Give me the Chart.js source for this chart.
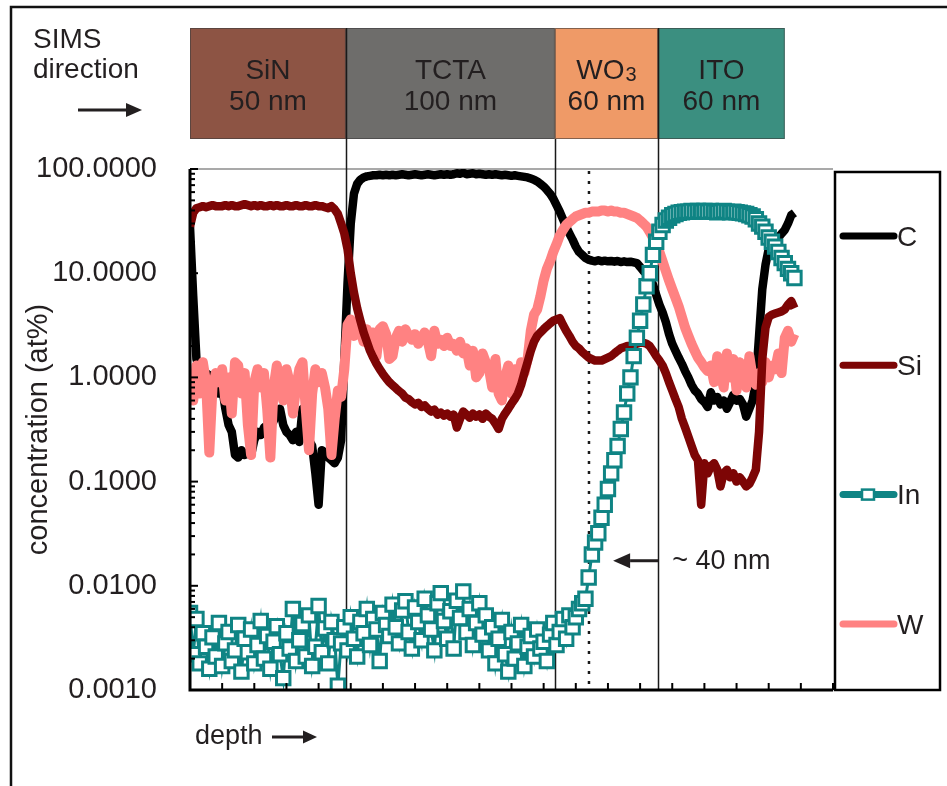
<!DOCTYPE html>
<html>
<head>
<meta charset="utf-8">
<title>SIMS depth profile</title>
<script src="https://cdn.jsdelivr.net/npm/chart.js@4.4.1/dist/chart.umd.min.js"></script>
<style>
  body { margin: 0; background: #fff; }
  #wrap { width: 947px; height: 786px; position: relative; }
</style>
</head>
<body>
<div id="wrap"><canvas id="chart"></canvas></div>
<script>
// depth runs in arbitrary units, 20 tick steps across the axis; one sample every 0.1
const STEP = 0.1;

// concentrations in at%
const carbon = [
  28, 6, 1.5, 1.2, 1.15, 1.1, 1.05, 1.0, 0.85, 0.7,
  0.8, 0.5, 0.35, 0.3, 0.18, 0.17, 0.2, 0.18, 0.19, 0.18,
  0.25, 0.3, 0.28, 0.33, 0.35, 0.4, 0.38, 0.45, 0.5, 0.35,
  0.3, 0.28, 0.25, 0.3, 0.24, 0.5, 0.45, 0.25, 0.22, 0.12,
  0.06, 0.2, 0.19, 0.17, 0.16, 0.15, 0.17, 0.25, 1.5, 8,
  30, 58, 72, 79, 83, 85, 86, 87, 87, 88,
  87, 88, 87, 88, 87, 88, 89, 88, 87, 88,
  89, 88, 87, 88, 89, 88, 87, 88, 89, 88,
  89, 88, 89, 91, 90, 92, 89, 90, 91, 89,
  90, 89, 88, 89, 88, 89, 88, 87, 88, 87,
  86, 87, 86, 85, 84, 83, 81, 79, 76, 72,
  68, 63, 58, 52, 45, 39, 33, 28, 24, 21,
  18, 16, 15, 14, 13.5, 13.2, 13.0, 13.3, 13.0, 13.2,
  13.0, 13.1, 12.9, 13.1, 12.8, 13.0, 12.8, 12.9, 12.7, 12.5,
  11.5, 10.5, 9.8, 9.0, 7.8, 6.2, 5.0, 4.2, 3.4, 2.6,
  2.1, 1.8, 1.55, 1.35, 1.15, 1.0, 0.85, 0.75, 0.7, 0.62,
  0.58, 0.52, 0.72, 0.6, 0.65, 0.55, 0.6, 0.5, 0.58, 0.68,
  0.6, 0.62, 0.55, 0.42, 0.5, 0.6, 0.9, 2.5, 7, 12,
  17, 19, 21, 22, 24, 26, 30, 36, 38
];

const silicon = [
  28, 38, 42, 43, 44, 43, 44, 45, 44, 44,
  44, 45, 44, 45, 44, 44, 45, 46, 45, 44,
  45, 44, 45, 44, 44, 45, 44, 45, 44, 44,
  45, 44, 44, 45, 44, 44, 45, 44, 44, 45,
  44, 44, 43, 42, 44, 41, 37, 30, 24, 17,
  10, 6.5, 4.6, 3.5, 2.7, 2.2, 1.8, 1.55, 1.35, 1.2,
  1.08, 0.98, 0.9, 0.84, 0.79, 0.74, 0.7, 0.64, 0.62, 0.58,
  0.55, 0.57, 0.52, 0.54, 0.5, 0.47, 0.49, 0.44, 0.46, 0.43,
  0.45, 0.42, 0.44, 0.33, 0.4, 0.47, 0.44, 0.41, 0.45, 0.42,
  0.44, 0.4, 0.45, 0.42, 0.4, 0.36, 0.32, 0.4, 0.45, 0.5,
  0.56, 0.62, 0.7, 0.85, 1.1, 1.4, 1.8, 2.2, 2.5, 2.7,
  2.9, 3.1, 3.3, 3.5, 3.6, 3.7, 3.2, 2.8, 2.5, 2.2,
  2.0, 1.9, 1.75, 1.65, 1.55, 1.5, 1.45, 1.45, 1.45, 1.5,
  1.55, 1.6, 1.7, 1.8, 1.9, 1.95, 2.0, 2.0, 2.05, 2.1,
  2.15, 2.15, 2.1, 2.0, 1.8, 1.6, 1.45, 1.3, 1.1, 0.9,
  0.75, 0.62, 0.52, 0.4, 0.33, 0.27, 0.22, 0.18, 0.16, 0.06,
  0.15, 0.12, 0.14, 0.15, 0.13, 0.09, 0.12, 0.13, 0.11, 0.12,
  0.1, 0.11, 0.1, 0.09, 0.095, 0.11, 0.13, 0.3, 1.5, 3.0,
  3.8, 4.0, 4.1, 4.2, 4.3, 4.5, 5.0, 5.4, 4.6
];

const indium = [
  0.0055, 0.0022, 0.0048, 0.0018, 0.0035, 0.0026, 0.0016, 0.0032, 0.0021, 0.0044,
  0.0017, 0.0028, 0.0036, 0.0019, 0.0024, 0.0042, 0.0015, 0.0031, 0.0023, 0.0038,
  0.0018, 0.0027, 0.0046, 0.0020, 0.0033, 0.0016, 0.0029, 0.0041, 0.0022, 0.0013,
  0.0035, 0.0025, 0.0060, 0.0019, 0.0030, 0.0043, 0.0021, 0.0052, 0.0017, 0.0026,
  0.0064, 0.0023, 0.0039, 0.0018, 0.0045, 0.0030, 0.0011, 0.0028, 0.0040, 0.0024,
  0.0050, 0.0031, 0.0021, 0.0045, 0.0035, 0.0060, 0.0027, 0.0048, 0.0038, 0.0019,
  0.0055, 0.0042, 0.0033, 0.0066, 0.0040, 0.0028, 0.0058, 0.0071, 0.0036, 0.0025,
  0.0062, 0.0045, 0.0030, 0.0075, 0.0052, 0.0038, 0.0024, 0.0068, 0.0085, 0.0046,
  0.0031, 0.0057, 0.0025, 0.0072, 0.0049, 0.0088, 0.0036, 0.0060, 0.0027, 0.0044,
  0.0068, 0.0034, 0.0052, 0.0024, 0.0040, 0.0018, 0.0031, 0.0047, 0.0022, 0.0015,
  0.0036, 0.0020, 0.0028, 0.0042, 0.0017, 0.0026, 0.0033, 0.0021, 0.0038, 0.0025,
  0.0029, 0.0019, 0.0034, 0.0044, 0.0027, 0.0036, 0.0048, 0.0031, 0.0052, 0.0040,
  0.0050, 0.0060, 0.0068, 0.0075, 0.012, 0.020, 0.026, 0.032, 0.045, 0.060,
  0.085, 0.12, 0.16, 0.22, 0.32, 0.46, 0.7, 1.0, 1.6, 2.4,
  3.5, 5.0, 7.5, 10, 15, 20, 25, 29, 32, 34,
  36, 37, 38, 38.5, 39, 39, 39.5, 39, 39.5, 39,
  39.5, 39, 39.5, 39, 38.5, 39, 39.5, 39, 38.5, 39,
  38.5, 38, 37.5, 37, 36, 35, 33, 30, 28, 25,
  22, 20, 18, 16, 14, 12.5, 11, 10, 9
];

const tungsten = [
  1.2, 0.6, 1.3, 0.7, 1.4, 0.9, 0.19, 0.8, 1.1, 0.9,
  1.2, 0.6, 1.0, 0.45, 1.4, 1.3, 0.7, 1.1, 0.35, 0.18,
  0.9, 1.2, 0.8, 1.1, 0.5, 0.17, 0.8, 1.3, 0.9, 0.6,
  1.2, 0.9, 0.45, 0.8, 1.2, 1.4, 0.5, 0.2, 0.7, 1.2,
  0.9, 1.1, 0.8, 0.5, 0.18, 0.4, 0.75, 0.65, 1.2, 3.2,
  3.6, 2.5, 3.4, 2.8, 2.2, 2.9, 2.4, 2.7, 1.6, 2.9,
  3.1, 2.6, 1.5, 1.6, 2.4, 2.8, 2.2, 2.9, 2.5, 2.3,
  2.6, 2.1, 2.4, 2.7, 2.2, 1.6, 2.8, 2.1, 2.3, 2.0,
  2.4, 2.0, 2.1, 1.8, 2.2, 1.7, 1.9, 1.3, 1.8, 1.0,
  1.1, 1.7, 1.4, 1.2, 0.8, 1.5, 0.7, 0.6, 1.0, 1.3,
  0.7, 1.2, 0.9, 1.4, 1.1, 1.5, 2.8, 4.0, 4.5, 6.0,
  8.5, 11, 13, 16, 19, 23, 26, 29, 31, 33,
  35, 36, 37, 38, 38, 39, 39, 39, 40, 40,
  39, 40, 39, 39, 38, 38, 37, 36, 35, 34,
  32, 30, 28, 25, 22, 19, 16, 13, 10.5, 8.5,
  7, 5.8, 4.8, 3.8, 3.0, 2.5, 2.1, 1.8, 1.55, 1.4,
  1.25, 1.15, 1.3, 0.9, 1.6, 1.1, 0.8, 1.7, 1.0, 1.5,
  0.75, 1.4, 1.2, 0.8, 1.6, 1.0, 0.85, 1.1, 0.9, 1.4,
  1.0, 1.3, 1.2, 1.7, 1.1, 2.4, 2.8, 2.2, 2.6
];

const depth = carbon.map((_, i) => +(i * STEP).toFixed(1));

// layer stack in sputter order
const layerNames = ['SiN', 'TCTA', 'WO', 'ITO'];
const layerSubs = ['', '', '3', ''];
const layerThickness = ['50 nm', '100 nm', '60 nm', '60 nm'];
const layerEdges = [0, 4.85, 11.35, 14.56, 18.5];
const layerColors = ['#8d5444', '#6e6d6b', '#ef9a67', '#3b8f80'];

const yDecades = [0.001, 0.01, 0.1, 1, 10, 100];

const seriesNames = ['C', 'Si', 'In', 'W'];
const seriesColors = ['#000000', '#7d0505', '#0f8484', '#ff8282'];

const ink = '#231f20';
const FONT = "'Liberation Sans', Arial, sans-serif";

function arrow(ctx, x1, y, x2, head, half) {
  const dir = Math.sign(x2 - x1);
  ctx.beginPath();
  ctx.moveTo(x1, y);
  ctx.lineTo(x2 - dir * head, y);
  ctx.stroke();
  ctx.beginPath();
  ctx.moveTo(x2, y);
  ctx.lineTo(x2 - dir * head, y - half);
  ctx.lineTo(x2 - dir * head, y + half);
  ctx.closePath();
  ctx.fill();
}

const toXY = arr => arr.map((v, i) => ({ x: depth[i], y: v }));

const decor = {
  id: 'decor',
  beforeDraw(chart) {
    const { ctx, scales: { x } } = chart;
    ctx.save();
    // layer boxes above the plot
    const top = 28, bot = 139;
    for (let i = 0; i < layerNames.length; i++) {
      const x0 = x.getPixelForValue(layerEdges[i]);
      const x1 = x.getPixelForValue(layerEdges[i + 1]);
      ctx.fillStyle = layerColors[i];
      ctx.fillRect(x0, top, x1 - x0, bot - top);
      ctx.strokeStyle = 'rgba(60,60,60,0.6)';
      ctx.lineWidth = 1;
      ctx.strokeRect(x0 + 0.5, top + 0.5, x1 - x0 - 1, bot - top - 1);

      const cx = (x0 + x1) / 2;
      ctx.fillStyle = ink;
      ctx.textBaseline = 'alphabetic';
      ctx.font = '28px ' + FONT;
      const mainW = ctx.measureText(layerNames[i]).width;
      ctx.font = '20px ' + FONT;
      const subW = layerSubs[i] ? ctx.measureText(layerSubs[i]).width + 1 : 0;
      const sx = cx - (mainW + subW) / 2;
      ctx.font = '28px ' + FONT;
      ctx.textAlign = 'left';
      ctx.fillText(layerNames[i], sx, 79);
      if (layerSubs[i]) {
        ctx.font = '20px ' + FONT;
        ctx.fillText(layerSubs[i], sx + mainW + 1, 81);
      }
      ctx.font = '28px ' + FONT;
      ctx.textAlign = 'center';
      ctx.fillText(layerThickness[i], cx, 110);
    }
    ctx.restore();
  },
  beforeDatasetsDraw(chart) {
    const { ctx, chartArea: a, scales: { x } } = chart;
    ctx.save();
    // thin top frame of the plot
    ctx.strokeStyle = '#8c8c8c';
    ctx.lineWidth = 1.5;
    ctx.beginPath();
    ctx.moveTo(a.left, a.top);
    ctx.lineTo(a.right, a.top);
    ctx.stroke();
    // interfaces between layers
    ctx.strokeStyle = '#1a1a1a';
    ctx.lineWidth = 1.5;
    [[layerEdges[1], 28], [layerEdges[2], 139], [layerEdges[3], 28]].forEach(([v, y0]) => {
      const px = Math.round(x.getPixelForValue(v)) + 0.5;
      ctx.beginPath();
      ctx.moveTo(px, y0);
      ctx.lineTo(px, a.bottom);
      ctx.stroke();
    });
    // dotted marker inside WO3
    ctx.setLineDash([3, 7]);
    ctx.lineWidth = 2.5;
    const dx = x.getPixelForValue(12.41);
    ctx.beginPath();
    ctx.moveTo(dx, a.top + 2);
    ctx.lineTo(dx, a.bottom);
    ctx.stroke();
    ctx.restore();
  },
  afterDraw(chart) {
    const { ctx, chartArea: a, scales: { x, y } } = chart;
    ctx.save();
    ctx.strokeStyle = '#000';
    ctx.fillStyle = '#000';

    // axes
    ctx.lineWidth = 3;
    ctx.beginPath();
    ctx.moveTo(a.left, a.top);
    ctx.lineTo(a.left, a.bottom);
    ctx.lineTo(a.right, a.bottom);
    ctx.stroke();

    // inward ticks on the log axis
    ctx.lineWidth = 2;
    for (let d = 0; d < yDecades.length; d++) {
      for (let m = 1; m <= 9; m++) {
        const v = yDecades[d] * m;
        if (v > 100.0001) break;
        const py = y.getPixelForValue(v);
        const len = m === 1 ? 8 : 5;
        ctx.beginPath();
        ctx.moveTo(a.left, py);
        ctx.lineTo(a.left + len, py);
        ctx.stroke();
      }
    }
    // inward ticks on the depth axis
    for (let k = 0; k <= 20; k++) {
      const px = x.getPixelForValue(k);
      ctx.beginPath();
      ctx.moveTo(px, a.bottom);
      ctx.lineTo(px, a.bottom - 7);
      ctx.stroke();
    }

    // legend box
    const lx = a.right + 2, ly = a.top + 3, lw = 105, lh = a.bottom - ly;
    ctx.lineWidth = 2.5;
    ctx.strokeRect(lx, ly, lw, lh);
    ctx.textAlign = 'left';
    ctx.textBaseline = 'middle';
    ctx.font = '28px ' + FONT;
    seriesNames.forEach((name, i) => {
      const ey = ly + 64 + i * 129.3;
      ctx.strokeStyle = seriesColors[i];
      ctx.lineWidth = 7;
      ctx.lineCap = 'round';
      ctx.beginPath();
      ctx.moveTo(lx + 8, ey);
      ctx.lineTo(lx + 59, ey);
      ctx.stroke();
      if (name === 'In') {
        ctx.lineWidth = 2.5;
        ctx.fillStyle = '#fff';
        ctx.fillRect(lx + 27, ey - 5, 12, 10);
        ctx.strokeRect(lx + 27, ey - 5, 12, 10);
      }
      ctx.fillStyle = ink;
      ctx.fillText(name, lx + 62, ey + 2);
    });
    ctx.lineCap = 'butt';

    ctx.fillStyle = ink;
    ctx.strokeStyle = ink;
    ctx.textBaseline = 'alphabetic';

    // sputter direction note
    ctx.font = '28px ' + FONT;
    ctx.fillText('SIMS', 33, 48);
    ctx.fillText('direction', 33, 78);
    ctx.lineWidth = 3;
    arrow(ctx, 78, 110, 142, 16, 7);

    // depth axis name
    ctx.font = '27px ' + FONT;
    ctx.fillText('depth', a.left + 5, 744);
    arrow(ctx, a.left + 82, 737, a.left + 127, 14, 6.5);

    // interface width annotation
    const tipX = x.getPixelForValue(13.16);
    const tailX = x.getPixelForValue(layerEdges[3]);
    const ay = y.getPixelForValue(0.0174);
    arrow(ctx, tailX, ay, tipX, 17, 7.5);
    ctx.fillText('~ 40 nm', x.getPixelForValue(15.0), ay + 8);

    // outer frame
    ctx.strokeStyle = '#111';
    ctx.lineWidth = 2.5;
    ctx.strokeRect(11, 7, 1000, 900);
    ctx.restore();
  }
};

new Chart(document.getElementById('chart'), {
  type: 'line',
  data: {
    datasets: [
      {
        label: 'In', data: toXY(indium), borderColor: seriesColors[2], borderWidth: 3,
        pointStyle: 'rect', pointRadius: 9.5, pointBorderWidth: 3,
        pointBackgroundColor: '#fff', pointBorderColor: seriesColors[2]
      },
      {
        label: 'Si', data: toXY(silicon), borderColor: seriesColors[1], borderWidth: 8.5,
        pointRadius: 0, borderJoinStyle: 'round'
      },
      {
        label: 'W', data: toXY(tungsten), borderColor: seriesColors[3], borderWidth: 10,
        pointRadius: 0, borderJoinStyle: 'round'
      },
      {
        label: 'C', data: toXY(carbon), borderColor: seriesColors[0], borderWidth: 8.5,
        pointRadius: 0, borderJoinStyle: 'round'
      }
    ]
  },
  options: {
    responsive: true,
    maintainAspectRatio: false,
    animation: false,
    events: [],
    layout: { padding: { left: 10, top: 169, right: 114, bottom: 96 } },
    plugins: { legend: { display: false }, tooltip: { enabled: false } },
    scales: {
      x: { type: 'linear', min: 0, max: 20, display: false },
      y: {
        type: 'logarithmic',
        min: 0.001,
        max: 100,
        afterFit: s => { s.width = 180; },
        afterBuildTicks: s => { s.ticks = yDecades.map(v => ({ value: v })); },
        grid: { display: false },
        border: { display: false },
        ticks: {
          callback: v => Number(v).toFixed(4),
          padding: 25,
          color: ink,
          font: { family: FONT, size: 29 }
        },
        title: {
          display: true,
          text: 'concentration (at%)',
          color: ink,
          font: { family: FONT, size: 29 },
          padding: { top: 12, bottom: 0 }
        }
      }
    }
  },
  plugins: [decor]
});
</script>
</body>
</html>
